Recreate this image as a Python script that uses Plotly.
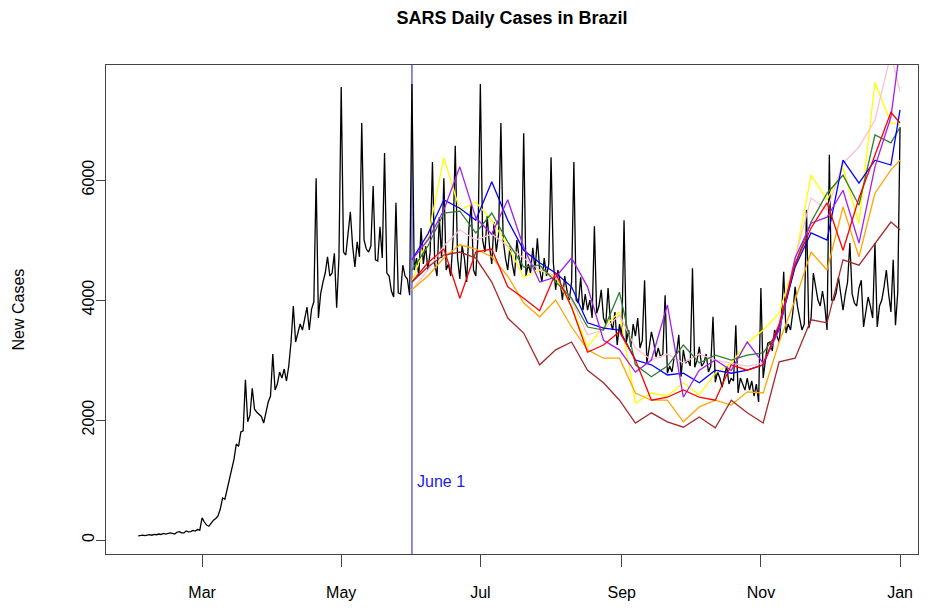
import pandas as pd
import plotly.graph_objects as go

# ---------------- data ----------------
daily_start = "2020-02-02"
daily_cases = [
    # Feb 2 - Feb 29
    70, 75, 80, 72, 85, 90, 80, 95, 88, 100, 92, 110, 100, 105, 120, 112, 100, 130, 140, 120,
    118, 150, 135, 140, 160, 150, 175, 165,
    # Mar
    370, 300, 250, 230, 290, 330, 360, 400, 520, 700, 680, 860, 1050, 1180, 1350, 1600, 1560, 1800, 1820, 2670,
    1970, 2080, 2530, 2180, 2130, 2100, 2060, 1950, 2150, 2300, 2400,
    # Apr
    3100, 2500, 2600, 2800, 2700, 2850, 2650, 2900, 3300, 3900, 3300, 3450, 3600, 3500, 3700, 3880, 3500, 3850, 3970, 6030,
    3700, 4110, 4300, 4450, 4720, 4400, 4450, 4780, 3870, 4700,
    # May
    7550, 4800, 4750, 5100, 5470, 4900, 4550, 4970, 4720, 6950, 5000, 4850, 4800, 4900, 5900, 4670, 4650, 5220, 4700, 6450,
    4450, 4400, 4150, 4050, 5620, 4120, 4100, 4580, 4400, 4350, 4080,
    # Jun
    7600, 4500, 4700, 4400, 5200, 4600, 4900, 4500, 4800, 6300, 4600, 4400, 5380, 4700, 6030, 4500, 4600, 4400, 5000, 6570,
    4700, 4350, 4900, 4700, 4300, 5200, 5600, 4500, 4400, 5100,
    # Jul
    7600, 5000, 4800, 5400, 4900, 4600, 5300, 4800, 5100, 6950, 5000, 4700, 4500, 4900, 4600, 4400, 5000, 4700, 4500, 6780,
    4400, 4600, 4450, 4870, 4500, 5030, 4500, 4300, 4700, 4400, 4600,
    # Aug
    6380, 4620, 4170, 4500, 4300, 4000, 4400, 4150, 4000, 4300, 6300, 4000, 3950, 4380, 3830, 4100, 3830, 4000, 3700, 5230,
    3780, 3900, 4170, 3700, 3600, 4200, 3650, 3500, 3800, 3250, 3600,
    # Sep
    3400, 5330, 3300, 3500, 3220, 3600, 3400, 3700, 3200, 3330, 4330, 2950, 3200, 3470, 3300, 3050, 3200, 3050, 3100, 4080,
    2780, 2900, 2800, 3050, 3100, 3420, 2720, 3170, 2950, 3000,
    # Oct
    2900, 4530, 2880, 3000, 3220, 2900, 2950, 3100, 2800, 2900, 3720, 2630, 2800, 2700, 2550, 2750, 2900, 2600, 2700, 2650,
    3580, 2450, 2700, 2600, 2500, 2700, 2500, 2650, 2400, 2600, 2300,
    # Nov
    4200, 2700, 3000, 3280, 3300, 3150, 3500, 3400, 3300, 3700, 4470, 3450, 3600, 3500, 3800, 4220, 3900, 3700, 3500, 3600,
    5500, 3530, 3700, 4450, 4200, 4000, 3900, 4150, 3900, 3500,
    # Dec
    6420, 4000, 4000, 4120, 4380, 4100, 3830, 4100, 4300, 4950, 4100, 3950, 3900, 4200, 4330, 3550, 3800, 4050, 3900, 3700,
    4950, 3550, 3900, 4000, 4220, 4500, 4100, 3800, 4670, 3580, 4130,
    # Jan 1
    6880,
]

forecast_start = "2020-06-01"
forecast_last = "2021-01-01"

fc_yellow = [4300, 5050, 6370, 5500, 5630, 5330, 4900, 4380, 4500, 4380, 3900, 3220, 3550, 3800, 2280, 2450,
             2400, 2620, 2420, 2780, 2950, 3280, 3500, 3780, 4670, 6080, 5670, 6200, 5280, 7630, 6950, 6920]
fc_pink = [4170, 4500, 4900, 5170, 5000, 5100, 4900, 4700, 4500, 4400, 4000, 3420, 3500, 3750, 3200, 3000,
           3100, 2950, 3100, 3000, 2950, 2900, 2950, 3500, 4700, 5700, 5500, 6280, 6550, 7000, 8100, 7470]
fc_green = [4500, 4900, 5450, 5480, 5120, 5450, 4970, 4550, 4580, 4300, 4030, 3550, 3500, 4130, 2920, 2720,
            2900, 3250, 2950, 3080, 3000, 3080, 3120, 3500, 4600, 5300, 5780, 6080, 5580, 6750, 6620, 6880]
fc_orange = [4170, 4400, 4700, 4920, 4850, 4720, 4400, 3950, 3720, 4000, 3550, 3170, 3030, 3030, 2450, 2330,
             2330, 1970, 2220, 2330, 2250, 2470, 2450, 3300, 4000, 4800, 4500, 5550, 4720, 5780, 6170, 6330]
fc_blue = [4670, 5100, 5670, 5530, 5330, 5970, 5330, 4830, 4620, 4450, 4220, 3620, 3530, 3500, 3000, 2920,
           2750, 2780, 2620, 2830, 2780, 2830, 2920, 3550, 4550, 5120, 5000, 6330, 5950, 6330, 6250, 7170]
fc_purple = [4670, 5000, 5500, 6220, 5370, 5100, 5670, 4880, 4300, 4380, 4700, 4220, 3330, 3170, 2800, 3000,
             3920, 2380, 2830, 3000, 2830, 3300, 2950, 3500, 4700, 5280, 5380, 5830, 4950, 6220, 7050, 8200]
fc_red = [4300, 4620, 4850, 4030, 4800, 4850, 4220, 4030, 3820, 4450, 3880, 3130, 3250, 3470, 3000, 2330,
          2380, 2500, 2380, 2330, 2920, 2830, 2920, 3600, 4600, 5200, 5620, 4830, 5700, 6400, 7130, 6950]
fc_brown = [4300, 4550, 4750, 4800, 4700, 4300, 3700, 3450, 2920, 3170, 3300, 2830, 2620, 2330, 1950, 2120,
            1970, 1880, 2050, 1870, 2330, 2120, 1950, 2970, 3030, 3670, 3620, 4670, 4580, 4950, 5300, 5170]

forecast_series = [
    ("yellow", fc_yellow, "#FFFF00"),
    ("pink", fc_pink, "#FFC0CB"),
    ("darkgreen", fc_green, "#2E7D32"),
    ("orange", fc_orange, "#FFA500"),
    ("blue", fc_blue, "#0000FF"),
    ("purple", fc_purple, "#A020F0"),
    ("red", fc_red, "#FF0000"),
    ("brown", fc_brown, "#A52A2A"),
]

x_tick_dates = ["2020-03-01", "2020-05-01", "2020-07-01", "2020-09-01", "2020-11-01", "2021-01-01"]
x_tick_labels = ["Mar", "May", "Jul", "Sep", "Nov", "Jan"]
y_tick_vals = [0, 2000, 4000, 6000]
marker_date = "2020-06-01"
marker_label = "June 1"

# ---------------- figure ----------------
daily_dates = pd.date_range(daily_start, periods=len(daily_cases), freq="D")
n_fc = len(fc_yellow)
fc_dates = list(pd.date_range(forecast_start, periods=n_fc - 1, freq="7D")) + [pd.Timestamp(forecast_last)]

fig = go.Figure()
fig.add_trace(go.Scatter(x=daily_dates, y=daily_cases, mode="lines",
                         line=dict(color="black", width=1.3), showlegend=False))
for name, vals, col in forecast_series:
    fig.add_trace(go.Scatter(x=fc_dates, y=vals, mode="lines", name=name,
                             line=dict(color=col, width=1.3), showlegend=False))

fig.add_shape(type="line", x0=marker_date, x1=marker_date, y0=0, y1=1, xref="x", yref="paper",
              line=dict(color="rgba(60,60,225,0.8)", width=1.5), layer="below")
fig.add_annotation(x=marker_date, y=983, text=marker_label, showarrow=False, xanchor="left",
                   yanchor="middle", xshift=3, font=dict(color="#2020E8", size=16, family="Liberation Sans"))
fig.add_annotation(x=0, xref="paper", y=0.5, yref="paper", text="New Cases", showarrow=False,
                   textangle=-90, xanchor="center", yanchor="middle", xshift=-88,
                   font=dict(size=16))

# page body has an 8px margin -> figure sized to fit the 932x613 window
fig.update_layout(
    width=924, height=605,
    margin=dict(l=98, r=14, t=57, b=59),
    paper_bgcolor="white", plot_bgcolor="white",
    font=dict(family="Liberation Sans", size=16, color="black"),
    title=dict(text="<b>SARS Daily Cases in Brazil</b>", x=0.5, xref="paper", xanchor="center",
               y=1 - 10 / 605, yref="container", yanchor="middle", font=dict(size=18)),
)
fig.update_xaxes(
    type="date", range=["2020-01-18 21:00", "2021-01-08 21:00"],
    tickvals=x_tick_dates, ticktext=x_tick_labels, automargin=False,
    showgrid=False, zeroline=False, showline=True, mirror=True, linecolor="#444", linewidth=1.2,
    ticks="outside", ticklen=12, tickcolor="#444", tickfont=dict(size=16), ticklabelstandoff=12,
)
fig.update_yaxes(
    range=[-233, 7917], tickvals=y_tick_vals, ticktext=[str(v) for v in y_tick_vals], automargin=False,
    showgrid=False, zeroline=False, showline=True, mirror=True, linecolor="#444", linewidth=1.2,
    ticks="outside", ticklen=9, tickcolor="#444", tickangle=-90, tickfont=dict(size=16),
    ticklabelstandoff=-4,
)

fig.write_html("out.html")
